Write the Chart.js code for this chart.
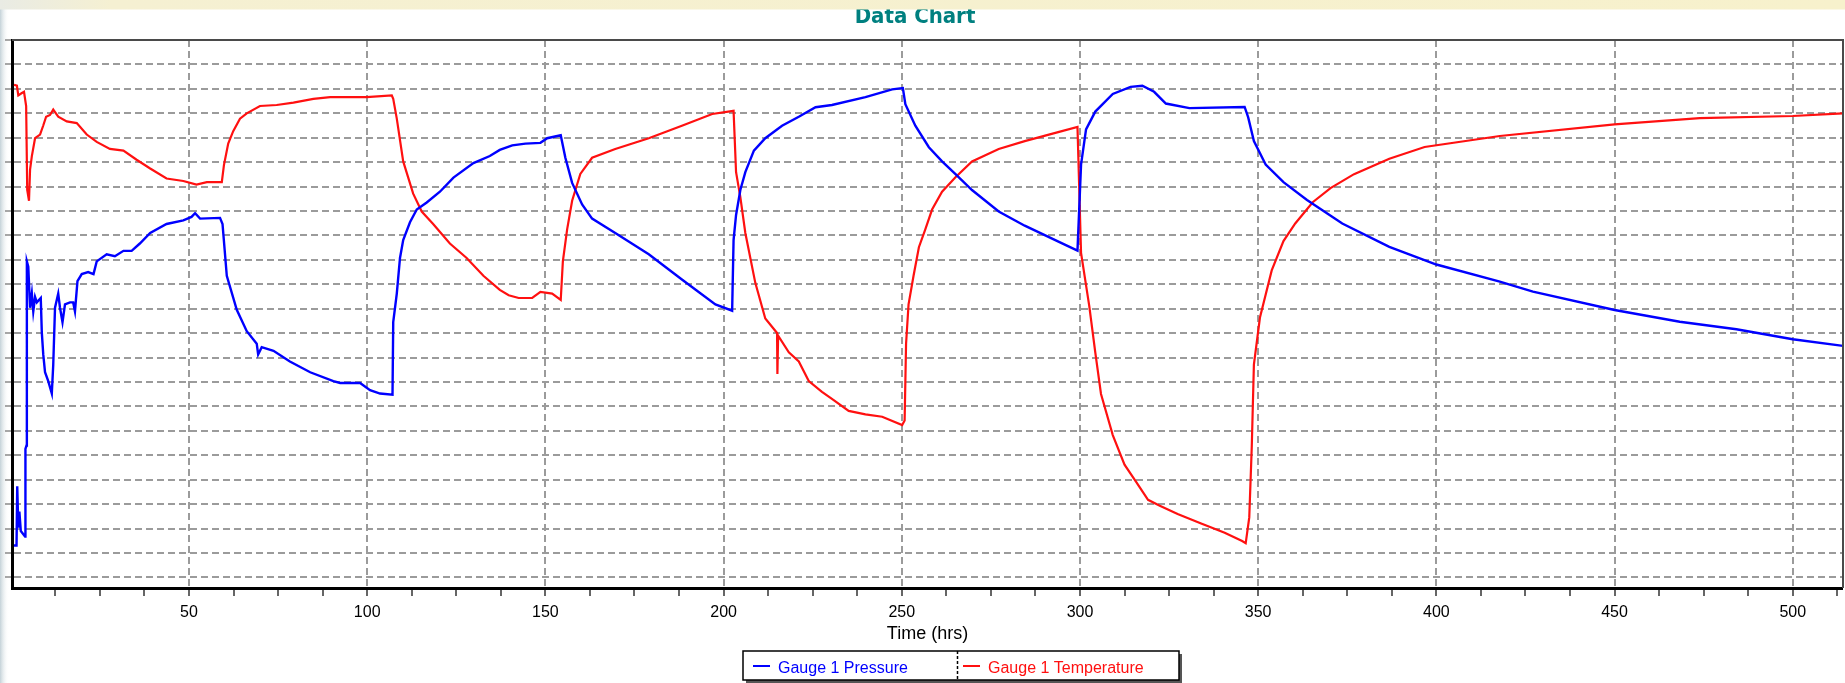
<!DOCTYPE html>
<html>
<head>
<meta charset="utf-8">
<title>Data Chart</title>
<script src="https://cdn.jsdelivr.net/npm/chart.js@4.4.0/dist/chart.umd.min.js"></script>
<style>
  html, body { margin: 0; padding: 0; background: #fff; overflow: hidden; }
  #wrap { position: relative; width: 1845px; height: 683px; }
</style>
</head>
<body>
<div id="wrap"><canvas id="dataChart" width="1845" height="683"></canvas></div>
<script>
// values; y is in grid divisions (the chart shows no y labels)
const TITLE = 'Data Chart';
const X_TITLE = 'Time (hrs)';

const pressureT = [0.9, 1.6, 1.8, 2.1, 2.4, 2.8, 4.0, 4.1, 4.4, 4.5, 4.9, 5.4, 5.9, 6.3, 6.8, 7.3, 8.4, 8.7, 9.1, 9.6,
  10.5, 11.5, 11.9, 12.4, 13.3, 13.8, 14.5, 15.2, 16.6, 17.5, 18.0, 18.7, 19.9, 21.7, 23.2, 24.1, 26.9, 29.2, 31.6, 33.9,
  36.2, 39.1, 43.7, 48.4, 50.7, 51.7, 53.1, 58.7, 59.4, 60.6, 63.4, 66.2, 69.0, 69.4, 70.4, 73.7, 78.3, 84.0, 90.5, 92.4,
  98.0, 100.8, 103.6, 107.1, 107.3, 108.3, 109.2, 110.1, 112.0, 113.9, 116.7, 120.4, 124.2, 129.8, 134.4, 137.2, 140.7,
  144.4, 148.6, 150.5, 154.3, 155.6, 157.5, 160.3, 163.1, 169.6, 179.0, 188.3, 197.7, 202.4, 202.8, 203.5, 204.7, 206.1,
  208.5, 211.7, 216.4, 221.1, 225.8, 230.4, 239.8, 247.3, 250.3, 251.0, 253.8, 257.6, 261.3, 265.0, 269.7, 277.2, 284.5,
  294.4, 299.3, 300.3, 301.7, 304.3, 309.2, 314.2, 317.5, 320.8, 324.1, 330.7, 346.2, 347.2, 348.8, 352.1, 357.1, 363.7,
  373.6, 386.8, 400.0, 417.8, 427.1, 450.0, 468.3, 484.2, 500.0, 514.1];
const pressureV = [1.31, 1.31, 3.73, 2.04, 2.7, 1.9, 1.68, 5.26, 5.4, 12.94, 12.72, 11.04, 11.62, 10.89, 11.48, 11.26, 11.44, 10.01, 9.13, 8.4,
  8.04, 7.53, 8.7, 11.04, 11.62, 11.04, 10.45, 11.18, 11.26, 11.26, 10.89, 12.13, 12.42, 12.5, 12.42, 12.94, 13.23, 13.15, 13.37, 13.37,
  13.67, 14.1, 14.47, 14.62, 14.76, 14.91, 14.69, 14.72, 14.47, 12.35, 10.96, 10.08, 9.57, 9.13, 9.43, 9.28, 8.84, 8.4, 8.04, 7.96,
  7.96, 7.67, 7.53, 7.48, 10.45, 11.62, 13.08, 13.81, 14.54, 15.06, 15.35, 15.79, 16.37, 16.96, 17.25, 17.5, 17.69,
  17.76, 17.79, 17.98, 18.1, 17.18, 16.15, 15.27, 14.69, 14.1, 13.23, 12.2, 11.18, 10.92, 13.81, 14.84, 15.86, 16.59,
  17.47, 17.98, 18.49, 18.86, 19.25, 19.34, 19.66, 19.98, 20.03, 19.37, 18.49, 17.61, 17.03, 16.52, 15.86, 14.98, 14.4,
  13.72, 13.38, 16.9, 18.34, 19.07, 19.79, 20.08, 20.13, 19.88, 19.4, 19.21, 19.26, 18.83, 17.86, 16.9, 16.18, 15.45,
  14.49, 13.53, 12.81, 12.11, 11.7, 10.95, 10.47, 10.16, 9.75, 9.48];

const temperatureT = [0.9, 1.7, 2.1, 3.0, 3.7, 4.3, 4.6, 5.1, 5.4, 5.9, 6.8, 8.2, 9.1, 9.9, 11.0, 11.9, 13.3, 15.7, 18.5, 21.3,
  24.1, 27.8, 31.6, 35.3, 39.1, 43.7, 48.4, 52.1, 55.0, 59.2, 59.8, 61.0, 62.4, 64.3, 66.2, 69.9, 74.6, 79.3, 84.9, 89.6,
  99.8, 106.9, 107.3, 108.3, 110.1, 112.9, 115.3, 118.5, 123.2, 127.9, 132.6, 137.2, 139.7, 142.5, 146.3, 148.6, 151.9,
  154.3, 154.9, 156.1, 157.5, 159.8, 163.1, 169.6, 179.0, 188.3, 196.8, 202.8, 203.5, 204.7, 206.1, 208.9, 211.7, 215.0,
  215.1, 215.3, 218.3, 221.1, 223.9, 227.6, 230.4, 235.1, 239.8, 244.5, 250.1, 250.8, 251.2, 251.9, 253.3, 254.8, 256.6,
  258.5, 261.3, 265.0, 269.7, 277.2, 284.5, 294.4, 299.3, 300.3, 302.6, 304.3, 305.9, 309.2, 312.5, 315.8, 319.1, 322.4,
  327.4, 334.0, 340.6, 345.5, 346.5, 347.5, 348.2, 348.8, 350.5, 353.8, 357.1, 360.4, 365.3, 370.3, 376.9, 386.8, 396.7,
  417.8, 450.0, 473.9, 500.0, 514.1];
const temperatureV = [20.17, 20.13, 19.73, 19.82, 19.88, 19.3, 15.86, 15.42, 16.7, 17.25, 17.98, 18.13, 18.5, 18.86, 18.93, 19.15, 18.86, 18.67, 18.6, 18.13,
  17.83, 17.54, 17.47, 17.1, 16.74, 16.33, 16.23, 16.08, 16.18, 16.18, 16.88, 17.76, 18.27, 18.78, 19.0, 19.3, 19.34, 19.44, 19.59, 19.66,
  19.66, 19.73, 19.59, 18.78, 17.03, 15.71, 14.98, 14.47, 13.67, 13.08, 12.35, 11.77, 11.55, 11.44, 11.44, 11.69, 11.62,
  11.36, 12.94, 14.25, 15.42, 16.52, 17.18, 17.54, 17.98, 18.49, 18.97, 19.1, 16.59, 15.57, 14.1, 12.06, 10.6, 10.01,
  8.33, 9.9, 9.22, 8.84, 8.04, 7.6, 7.31, 6.82, 6.68, 6.58, 6.24, 6.43, 9.57, 11.18, 12.35, 13.52, 14.25,
  15.06, 15.79, 16.37, 17.03, 17.54, 17.86, 18.25, 18.44, 13.29, 11.12, 9.2, 7.51, 5.83, 4.62, 3.9, 3.18, 2.94,
  2.6, 2.21, 1.83, 1.49, 1.4, 2.46, 5.34, 8.71, 10.64, 12.57, 13.77, 14.49, 15.36, 15.94, 16.51, 17.14, 17.62,
  18.07, 18.55, 18.8, 18.89, 19.0];

const xTicks = [12.5, 25, 37.5, 50, 62.5, 75, 87.5, 100, 112.5, 125, 137.5, 150, 162.5, 175, 187.5, 200, 212.5, 225, 237.5,
  250, 262.5, 275, 287.5, 300, 312.5, 325, 337.5, 350, 362.5, 375, 387.5, 400, 412.5, 425, 437.5, 450, 462.5, 475, 487.5,
  500, 512.5];
const yGrid = [0, 1, 2, 3, 4, 5, 6, 7, 8, 9, 10, 11, 12, 13, 14, 15, 16, 17, 18, 19, 20, 21, 22];

const toPoints = (ts, vs) => ts.map((t, i) => ({ x: t, y: vs[i] }));
const isMajor = v => Math.abs(v % 50) < 1e-6;

const framePlugin = {
  id: 'frame',
  beforeDraw(chart) {
    const ctx = chart.ctx;
    ctx.save();
    ctx.fillStyle = '#ffffff';
    ctx.fillRect(0, 0, chart.width, chart.height);
    const g = ctx.createLinearGradient(0, 0, 9, 0);
    g.addColorStop(0, 'rgba(190,205,212,0.9)');
    g.addColorStop(1, 'rgba(255,255,255,0)');
    ctx.fillStyle = g;
    ctx.fillRect(0, 0, 9, chart.height);
    ctx.restore();
  },
  afterDraw(chart, args, opts) {
    const ctx = chart.ctx;
    const a = chart.chartArea;
    ctx.save();

    // title, its top hidden by the band above it
    ctx.font = 'bold 22px "DejaVu Sans", Verdana, sans-serif';
    if ('fontStretch' in ctx) ctx.fontStretch = 'condensed';
    ctx.fillStyle = '#008080';
    ctx.textAlign = 'center';
    ctx.textBaseline = 'alphabetic';
    ctx.fillText(opts.title, 915, 23);
    if ('fontStretch' in ctx) ctx.fontStretch = 'normal';

    const band = ctx.createLinearGradient(0, 0, chart.width, 0);
    band.addColorStop(0, '#e9ebe4');
    band.addColorStop(0.06, '#f5f0d2');
    band.addColorStop(1, '#f7f1cc');
    ctx.fillStyle = band;
    ctx.fillRect(0, 0, chart.width, 9.5);

    // top and right frame
    ctx.strokeStyle = '#4a4a4a';
    ctx.lineWidth = 2;
    ctx.beginPath();
    ctx.moveTo(a.left, a.top);
    ctx.lineTo(a.right, a.top);
    ctx.lineTo(a.right, a.bottom);
    ctx.stroke();

    // legend box
    const lx = 743, ly = 651, lw = 436, lh = 29, mid = 957.5;
    ctx.fillStyle = '#555';
    ctx.fillRect(lx + 3, ly + 3, lw, lh);
    ctx.fillStyle = '#fff';
    ctx.fillRect(lx, ly, lw, lh);
    ctx.strokeStyle = '#000';
    ctx.lineWidth = 1.5;
    ctx.strokeRect(lx, ly, lw, lh);
    ctx.setLineDash([3, 2]);
    ctx.beginPath();
    ctx.moveTo(mid, ly);
    ctx.lineTo(mid, ly + lh);
    ctx.stroke();
    ctx.setLineDash([]);

    const starts = [753, 963];
    ctx.font = '16px "Liberation Sans", Arial, sans-serif';
    ctx.textAlign = 'left';
    chart.data.datasets.forEach((ds, i) => {
      const sx = starts[i];
      ctx.strokeStyle = ds.borderColor;
      ctx.lineWidth = 2;
      ctx.beginPath();
      ctx.moveTo(sx, 666);
      ctx.lineTo(sx + 17, 666);
      ctx.stroke();
      ctx.fillStyle = ds.borderColor;
      ctx.fillText(ds.label, sx + 25, 673);
    });
    ctx.restore();
  }
};

new Chart(document.getElementById('dataChart'), {
  type: 'line',
  data: {
    datasets: [
      {
        label: 'Gauge 1 Pressure',
        data: toPoints(pressureT, pressureV),
        borderColor: '#0000ff',
        borderWidth: 2.4,
        pointRadius: 0,
        tension: 0
      },
      {
        label: 'Gauge 1 Temperature',
        data: toPoints(temperatureT, temperatureV),
        borderColor: '#ff1010',
        borderWidth: 2.2,
        pointRadius: 0,
        tension: 0
      }
    ]
  },
  options: {
    responsive: false,
    animation: false,
    devicePixelRatio: 1,
    layout: { padding: { top: 40, right: 2, left: 0, bottom: 0 } },
    plugins: {
      legend: { display: false },
      tooltip: { enabled: false },
      frame: { title: TITLE }
    },
    scales: {
      x: {
        type: 'linear',
        min: 0.33,
        max: 514.1,
        afterBuildTicks: s => { s.ticks = xTicks.map(v => ({ value: v })); },
        afterFit: s => { s.height = 95; },
        ticks: {
          autoSkip: false,
          maxRotation: 0,
          padding: 7,
          color: '#000',
          font: { family: '"Liberation Sans", Arial, sans-serif', size: 16 },
          callback: v => (isMajor(v) ? String(v) : '')
        },
        grid: {
          color: '#9b9b9b',
          lineWidth: c => (c.tick && isMajor(c.tick.value) ? 2 : 0),
          tickWidth: 1.5,
          tickColor: '#333',
          tickLength: 8
        },
        border: { display: true, color: '#000', width: 3, dash: [7, 4] },
        title: {
          display: true,
          text: X_TITLE,
          color: '#000',
          font: { family: '"Liberation Sans", Arial, sans-serif', size: 18 },
          padding: { top: 0, bottom: 38 }
        }
      },
      y: {
        type: 'linear',
        min: -0.43,
        max: 22,
        afterBuildTicks: s => { s.ticks = yGrid.map(v => ({ value: v })); },
        afterFit: s => { s.width = 12; },
        ticks: { display: false },
        grid: {
          color: '#9b9b9b',
          lineWidth: 2,
          tickColor: '#8a8a8a',
          tickWidth: 1.5,
          tickLength: 7
        },
        border: { display: true, color: '#000', width: 3, dash: [7, 4] }
      }
    }
  },
  plugins: [framePlugin]
});
</script>
</body>
</html>
